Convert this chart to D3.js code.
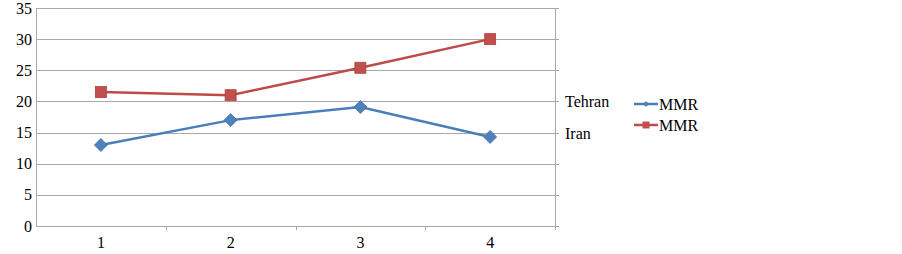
<!DOCTYPE html>
<html>
<head>
<meta charset="utf-8">
<script src="https://cdn.jsdelivr.net/npm/d3@7"></script>
<style>
  body { margin: 0; background: #fff; }
  text { font-family: "Liberation Serif", "Times New Roman", serif; fill: #000; }
</style>
</head>
<body>
<svg id="chart"></svg>
<script>
// chart data
const categories = ['1', '2', '3', '4'];
const iranValues = [13, 17, 19.1, 14.3];
const tehranValues = [21.5, 21, 25.4, 30];
const yTicks = [0, 5, 10, 15, 20, 25, 30, 35];
const sideLabels = [{ name: 'Tehran', value: 20 }, { name: 'Iran', value: 15 }];
const legendNames = ['MMR', 'MMR'];

const width = 902, height = 254;
const margin = { top: 8, left: 36, right: 347, bottom: 28 };
const innerW = width - margin.left - margin.right;
const innerH = height - margin.top - margin.bottom;

const svg = d3.select('#chart').attr('width', width).attr('height', height);
const chart = svg.append('g').attr('transform', `translate(${margin.left},${margin.top})`);

const xScale = d3.scaleBand().domain(categories).range([0, innerW]);
const yScale = d3.scaleLinear().domain([0, 35]).range([innerH, 0]);

const gridColor = '#a8a8a8';

// gridlines
chart.selectAll('.grid')
  .data(yTicks)
  .join('line')
  .attr('class', 'grid')
  .attr('x1', 0).attr('x2', innerW + 4)
  .attr('y1', d => Math.round(yScale(d)) + 0.5)
  .attr('y2', d => Math.round(yScale(d)) + 0.5)
  .attr('stroke', gridColor);

// y axis (labels only, no outer ticks)
const yAxis = d3.axisLeft(yScale).tickValues(yTicks).tickSize(0).tickPadding(4).tickSizeOuter(0);
const yAxisG = chart.append('g').call(yAxis);
yAxisG.selectAll('text').style('font-size', '16px');
yAxisG.select('.domain').attr('stroke', gridColor);

// right border line
chart.append('line')
  .attr('x1', innerW + 0.5).attr('x2', innerW + 0.5)
  .attr('y1', 0).attr('y2', innerH + 4)
  .attr('stroke', gridColor);

// x axis with ticks at band edges
const xAxisG = chart.append('g').attr('transform', `translate(0,${innerH})`);
xAxisG.append('line').attr('x1', 0).attr('x2', innerW).attr('y1', 0.5).attr('y2', 0.5).attr('stroke', gridColor);
xAxisG.selectAll('.xtick')
  .data(categories)
  .join('line')
  .attr('class', 'xtick')
  .attr('x1', d => Math.round(xScale(d) + xScale.bandwidth()) + 0.5)
  .attr('x2', d => Math.round(xScale(d) + xScale.bandwidth()) + 0.5)
  .attr('y1', 0).attr('y2', 4)
  .attr('stroke', gridColor);
xAxisG.selectAll('.xlabel')
  .data(categories)
  .join('text')
  .attr('class', 'xlabel')
  .attr('x', d => xScale(d) + xScale.bandwidth() / 2)
  .attr('y', 22)
  .attr('text-anchor', 'middle')
  .style('font-size', '16px')
  .text(d => d);

const xPos = d => xScale(d) + xScale.bandwidth() / 2;
const line = d3.line().x((d, i) => xPos(categories[i])).y(d => yScale(d));

// Tehran (red squares)
chart.append('path').datum(tehranValues)
  .attr('d', line).attr('fill', 'none').attr('stroke', '#be4b48').attr('stroke-width', 2.5);
chart.selectAll('.sq')
  .data(tehranValues)
  .join('rect')
  .attr('class', 'sq')
  .attr('x', (d, i) => xPos(categories[i]) - 5.5)
  .attr('y', d => yScale(d) - 5.5)
  .attr('width', 11).attr('height', 11)
  .attr('fill', '#c0504d').attr('stroke', '#b3403d').attr('stroke-width', 0.8);

// Iran (blue diamonds)
chart.append('path').datum(iranValues)
  .attr('d', line).attr('fill', 'none').attr('stroke', '#4a7ebb').attr('stroke-width', 2.5);
chart.selectAll('.dm')
  .data(iranValues)
  .join('path')
  .attr('class', 'dm')
  .attr('d', (d, i) => {
    const x = xPos(categories[i]), y = yScale(d);
    return `M${x},${y - 6.5}L${x + 6.5},${y}L${x},${y + 6.5}L${x - 6.5},${y}Z`;
  })
  .attr('fill', '#4f81bd').attr('stroke', '#3f6fa8').attr('stroke-width', 0.8);

// side labels
chart.selectAll('.side')
  .data(sideLabels)
  .join('text')
  .attr('class', 'side')
  .attr('x', innerW + 10)
  .attr('y', d => yScale(d.value) + 6)
  .style('font-size', '16px')
  .text(d => d.name);

// legend
const legend = svg.append('g').attr('transform', 'translate(634,104)');
const legendItems = [
  { name: legendNames[0], color: '#4a7ebb', fill: '#4f81bd', shape: 'diamond' },
  { name: legendNames[1], color: '#be4b48', fill: '#c0504d', shape: 'square' }
];
legendItems.forEach((d, i) => {
  const g = legend.append('g').attr('transform', `translate(0,${i * 21})`);
  g.append('line').attr('x1', 0).attr('x2', 24).attr('y1', 0).attr('y2', 0)
    .attr('stroke', d.color).attr('stroke-width', 2.5);
  if (d.shape === 'diamond') {
    g.append('path').attr('d', 'M12,-3L15,0L12,3L9,0Z').attr('fill', d.fill);
  } else {
    g.append('rect').attr('x', 8.5).attr('y', -3.5).attr('width', 7).attr('height', 7).attr('fill', d.fill);
  }
  g.append('text').attr('x', 25).attr('y', 6).style('font-size', '16px').text(d.name);
});
</script>
</body>
</html>
